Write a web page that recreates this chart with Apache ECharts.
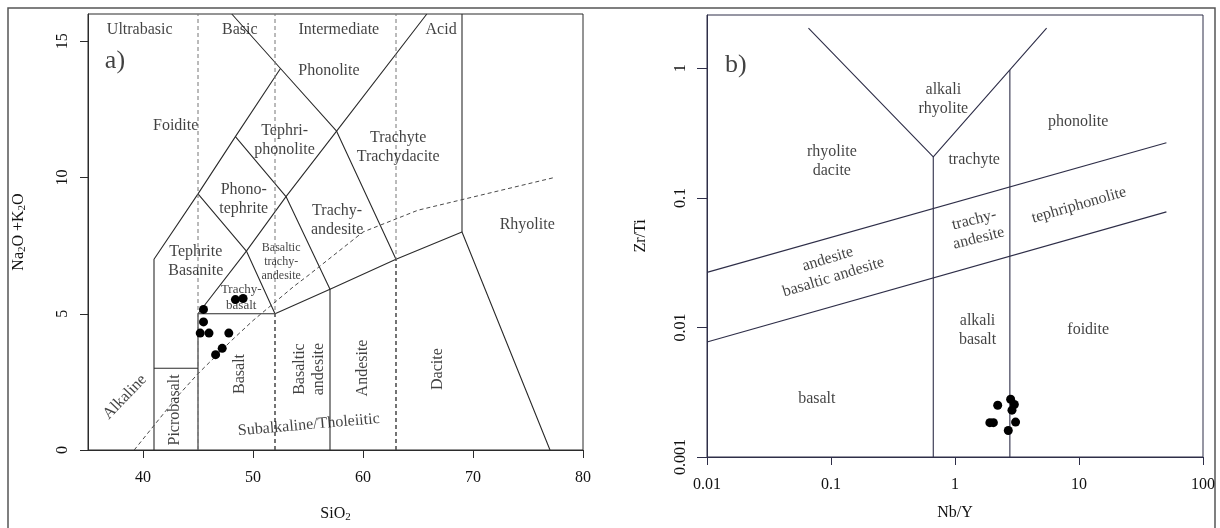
<!DOCTYPE html>
<html>
<head>
<meta charset="utf-8">
<script src="https://cdn.jsdelivr.net/npm/echarts@6/dist/echarts.min.js"></script>
<style>
  html, body { margin: 0; padding: 0; background: #ffffff; }
  #chart { width: 1220px; height: 528px; }
</style>
</head>
<body>
<div id="chart"></div>
<script>
// ---- (a) Total alkali vs silica ----
const tasSilicaTicks = [40, 50, 60, 70, 80];
const tasAlkaliTicks = [0, 5, 10, 15];

// measured samples: SiO2 and Na2O+K2O (wt%)
const sampleSiO2   = [45.5, 45.5, 45.2, 46.0, 47.8, 46.6, 47.2, 48.4, 49.1];
const sampleAlkali = [5.16, 4.70, 4.29, 4.29, 4.29, 3.50, 3.73, 5.52, 5.56];

// field boundaries of the TAS classification (SiO2, Na2O+K2O)
const tasFieldLines = [
  [[41, 0], [41, 7], [45, 9.4], [48.4, 11.5], [52.5, 14]],
  [[48.07, 16], [52.5, 14], [57.6, 11.7], [63, 7]],
  [[41, 3], [45, 3]],
  [[45, 0], [45, 5], [52, 5]],
  [[45, 5], [49.4, 7.3], [53, 9.3], [57.6, 11.7], [65.8, 16]],
  [[45, 9.4], [49.4, 7.3], [52, 5], [57, 5.9], [63, 7], [69, 8], [77, 0]],
  [[48.4, 11.5], [53, 9.3], [57, 5.9], [57, 0]],
  [[69, 8], [69, 16]]
];
const tasDashedFieldLines = [
  [[52, 0], [52, 5]],
  [[63, 0], [63, 7]]
];
// ultrabasic / basic / intermediate / acid limits
const silicaClassLimits = [45, 52, 63];
// alkaline / subalkaline divide
const alkalineDivideSiO2   = [39.2, 40, 43.2, 45, 48, 50, 53.7, 55, 60, 65, 77.4];
const alkalineDivideAlkali = [0, 0.4, 2.0, 2.8, 4.0, 4.75, 6.0, 6.4, 8.0, 8.8, 10];

// ---- (b) Zr/Ti vs Nb/Y ----
const ratioTicksX = [0.01, 0.1, 1, 10, 100];
const ratioTicksY = [0.001, 0.01, 0.1, 1];

const sampleNbY  = [2.21, 2.81, 3.01, 2.88, 1.91, 2.04, 3.08, 2.69];
const sampleZrTi = [0.00251, 0.00279, 0.00254, 0.00230, 0.00184, 0.00184, 0.00186, 0.00160];

const ratioFieldLines = [
  [[0.0658, 2.04], [0.668, 0.2075], [5.48, 2.04]],
  [[0.668, 0.2075], [0.668, 0.001]],
  [[2.77, 0.971], [2.77, 0.001]],
  [[0.01, 0.0266], [50.7, 0.266]],
  [[0.01, 0.00773], [50.7, 0.078]]
];

// field names: [text, x, y, rotation, size]
const tasFieldNames = [
  ['Ultrabasic', 39.7, 15.43, 0, 16],
  ['Basic', 48.8, 15.43, 0, 16],
  ['Intermediate', 57.8, 15.43, 0, 16],
  ['Acid', 67.1, 15.43, 0, 16],
  ['a)', 37.45, 14.27, 0, 26],
  ['Phonolite', 56.9, 13.91, 0, 16],
  ['Foidite', 42.97, 11.9, 0, 16],
  ['Tephri-\nphonolite', 52.87, 11.38, 0, 16],
  ['Trachyte\nTrachydacite', 63.2, 11.12, 0, 16],
  ['Phono-\ntephrite', 49.16, 9.19, 0, 16],
  ['Trachy-\nandesite', 57.65, 8.44, 0, 16],
  ['Rhyolite', 74.93, 8.26, 0, 16],
  ['Tephrite\nBasanite', 44.8, 6.92, 0, 16],
  ['Basaltic\ntrachy-\nandesite', 52.56, 6.92, 0, 12],
  ['Trachy-\nbasalt', 48.93, 5.6, 0, 13],
  ['Alkaline', 38.35, 1.94, 46, 16],
  ['Picrobasalt', 42.88, 1.47, 90, 16],
  ['Basalt', 48.79, 2.79, 90, 16],
  ['Basaltic\nandesite', 55.15, 2.97, 90, 16],
  ['Andesite', 60.0, 3.01, 90, 16],
  ['Dacite', 66.82, 2.97, 90, 16],
  ['Subalkaline/Tholeiitic', 55.07, 0.92, 5, 16]
];
const ratioFieldNames = [
  ['b)', 0.0171, 1.06, 0, 26],
  ['rhyolite\ndacite', 0.1016, 0.19, 0, 16],
  ['alkali\nrhyolite', 0.805, 0.579, 0, 16],
  ['phonolite', 9.84, 0.387, 0, 16],
  ['trachyte', 1.428, 0.196, 0, 16],
  ['trachy-\nandesite', 1.49, 0.0574, 14, 16],
  ['tephriphonolite', 10.0, 0.0879, 16, 16],
  ['andesite\nbasaltic andesite', 0.0993, 0.0287, 17, 16],
  ['alkali\nbasalt', 1.52, 0.00944, 0, 16],
  ['foidite', 11.86, 0.00952, 0, 16],
  ['basalt', 0.0769, 0.00283, 0, 16]
];

const SERIF = '"Liberation Serif", "DejaVu Serif", serif';
const INK = '#111111';
const LINE_A = '#2b2b2b';
const LINE_B = '#2e2e48';

function lineSeries(points, xi, color, dashed, width) {
  return {
    type: 'line', xAxisIndex: xi, yAxisIndex: xi, data: points,
    symbol: 'none', silent: true, animation: false,
    lineStyle: { color: color, width: width || 1, opacity: 1, type: dashed ? [4, 3] : 'solid' },
    z: 2
  };
}

function nameSeries(list, xi) {
  return {
    type: 'scatter', xAxisIndex: xi, yAxisIndex: xi, symbolSize: 0, silent: true,
    animation: false, z: 5,
    data: list.map(d => ({
      value: [d[1], d[2]],
      label: { formatter: d[0], rotate: d[3], fontSize: d[4], lineHeight: Math.round(d[4] * 1.2) }
    })),
    label: {
      show: true, position: 'inside', color: INK, fontFamily: SERIF,
      align: 'center', verticalAlign: 'middle'
    }
  };
}

const series = [];
tasFieldLines.forEach(p => series.push(lineSeries(p, 0, LINE_A, false, 1.1)));
silicaClassLimits.forEach(s => series.push(lineSeries([[s, 0], [s, 16]], 0, '#777777', true, 1)));
tasDashedFieldLines.forEach(p => series.push(lineSeries(p, 0, '#3a3a3a', true, 1.1)));
series.push(lineSeries(alkalineDivideSiO2.map((s, i) => [s, alkalineDivideAlkali[i]]), 0, '#4a4a4a', true, 1));
ratioFieldLines.forEach(p => series.push(lineSeries(p, 1, LINE_B, false, 1.1)));

series.push({
  type: 'scatter', xAxisIndex: 0, yAxisIndex: 0, symbol: 'circle', symbolSize: 9,
  itemStyle: { color: '#000000', opacity: 1 }, z: 6, animation: false,
  data: sampleSiO2.map((s, i) => [s, sampleAlkali[i]])
});
series.push({
  type: 'scatter', xAxisIndex: 1, yAxisIndex: 1, symbol: 'circle', symbolSize: 9,
  itemStyle: { color: '#000000', opacity: 1 }, z: 6, animation: false,
  data: sampleNbY.map((s, i) => [s, sampleZrTi[i]])
});
series.push(nameSeries(tasFieldNames, 0));
series.push(nameSeries(ratioFieldNames, 1));

const axisFont = { fontFamily: SERIF, fontSize: 16, color: INK };
const subRich = {
  sub: { fontFamily: SERIF, fontSize: 11, color: INK, verticalAlign: 'bottom', padding: [8, 0, 0, 0] }
};

const option = {
  backgroundColor: '#ffffff',
  animation: false,
  grid: [
    { left: 88, top: 14, width: 495, height: 439, show: true, borderColor: LINE_A, borderWidth: 1 },
    { left: 707, top: 15, width: 496, height: 442, show: true, borderColor: LINE_B, borderWidth: 1 }
  ],
  xAxis: [
    {
      type: 'value', gridIndex: 0, min: 35, max: 80,
      splitLine: { show: false },
      axisLine: { onZero: false, lineStyle: { color: LINE_A } },
      axisTick: { customValues: tasSilicaTicks, length: 8, lineStyle: { color: LINE_A } },
      axisLabel: Object.assign({ customValues: tasSilicaTicks, margin: 20 }, axisFont),
      name: 'SiO{sub|2}', nameLocation: 'middle', nameGap: 54,
      nameTextStyle: Object.assign({ rich: subRich }, axisFont)
    },
    {
      type: 'log', gridIndex: 1, min: 0.01, max: 100, logBase: 10,
      splitLine: { show: false },
      axisLine: { onZero: false, lineStyle: { color: LINE_B } },
      axisTick: { customValues: ratioTicksX, length: 8, lineStyle: { color: LINE_B } },
      axisLabel: Object.assign({ customValues: ratioTicksX, margin: 20, formatter: v => String(v) }, axisFont),
      name: 'Nb/Y', nameLocation: 'middle', nameGap: 48,
      nameTextStyle: axisFont
    }
  ],
  yAxis: [
    {
      type: 'value', gridIndex: 0, min: 0, max: 16,
      splitLine: { show: false },
      axisLine: { onZero: false, lineStyle: { color: LINE_A } },
      axisTick: { customValues: tasAlkaliTicks, length: 8, lineStyle: { color: LINE_A } },
      axisLabel: Object.assign({ customValues: tasAlkaliTicks, margin: 17, rotate: 90 }, axisFont),
      name: 'Na{sub|2}O +K{sub|2}O', nameLocation: 'middle', nameGap: 60,
      nameTextStyle: Object.assign({ rich: subRich }, axisFont)
    },
    {
      type: 'log', gridIndex: 1, min: 0.001, max: 2.58, logBase: 10,
      splitLine: { show: false },
      axisLine: { onZero: false, lineStyle: { color: LINE_B } },
      axisTick: { customValues: ratioTicksY, length: 10, lineStyle: { color: LINE_B } },
      axisLabel: Object.assign({ customValues: ratioTicksY, margin: 18, rotate: 90, formatter: v => String(v) }, axisFont),
      name: 'Zr/Ti', nameLocation: 'middle', nameGap: 58,
      nameTextStyle: axisFont
    }
  ],
  graphic: [
    // outer frame around both panels
    { type: 'rect', shape: { x: 8, y: 8, width: 1207, height: 530 }, style: { fill: null, stroke: '#555555', lineWidth: 1.5 }, silent: true }
  ],
  series: series
};

const chart = echarts.init(document.getElementById('chart'), null, { renderer: 'canvas' });
chart.setOption(option);
</script>
</body>
</html>
